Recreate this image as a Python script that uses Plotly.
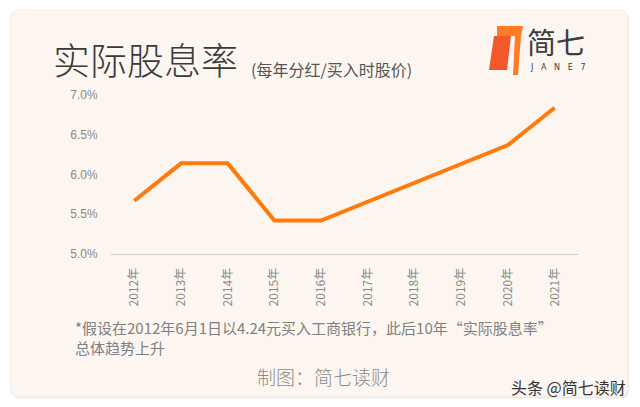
import plotly.graph_objects as go

years = ["2012年", "2013年", "2014年", "2015年", "2016年", "2017年", "2018年", "2019年", "2020年", "2021年"]
yield_pct = [5.67, 6.14, 6.14, 5.42, 5.42, 5.66, 5.90, 6.13, 6.37, 6.84]
y_ticks = [5.0, 5.5, 6.0, 6.5, 7.0]
y_tick_text = ["5.0%", "5.5%", "6.0%", "6.5%", "7.0%"]

W, H = 640, 407
L, R, T, B = 111, 62, 95, 153
PW, PH = W - L - R, H - T - B

def X(px):
    return (px - L) / PW

def Y(py):
    return (H - B - py) / PH

CJK = "Noto Sans CJK SC"

fig = go.Figure()
fig.add_trace(go.Scatter(
    x=years, y=yield_pct, mode="lines",
    line=dict(color="#ff7a0c", width=4),
    hoverinfo="skip",
))

x0, y0, x1, y1, r = 10.5, 10, 628, 397, 9
def card_path(x0, y0, x1, y1, r):
    pts = [
        f"M {X(x0 + r)},{Y(y0)}",
        f"L {X(x1 - r)},{Y(y0)}",
        f"Q {X(x1)},{Y(y0)} {X(x1)},{Y(y0 + r)}",
        f"L {X(x1)},{Y(y1 - r)}",
        f"Q {X(x1)},{Y(y1)} {X(x1 - r)},{Y(y1)}",
        f"L {X(x0 + r)},{Y(y1)}",
        f"Q {X(x0)},{Y(y1)} {X(x0)},{Y(y1 - r)}",
        f"L {X(x0)},{Y(y0 + r)}",
        f"Q {X(x0)},{Y(y0)} {X(x0 + r)},{Y(y0)}",
        "Z",
    ]
    return " ".join(pts)

shapes = [
    dict(type="path", xref="paper", yref="paper", layer="below",
         path=card_path(x0 + 1, y0 + 1.5, x1 + 1, y1 + 1.5, r),
         fillcolor="#e9e9e9", line=dict(width=0)),
    dict(type="path", xref="paper", yref="paper", layer="below",
         path=card_path(x0, y0, x1, y1, r),
         fillcolor="#fdf6f0", line=dict(color="#f0ebe6", width=1)),
]

def poly(pts, color):
    d = "M " + " L ".join(f"{X(px)},{Y(py)}" for px, py in pts) + " Z"
    return dict(type="path", xref="paper", yref="paper", path=d,
                fillcolor=color, line=dict(width=0))

shapes.append(poly([(489, 70), (494, 36), (511, 36), (507, 70)], "#f4582a"))
shapes.append(poly([(497, 26), (523, 26), (521, 36), (518, 75), (513, 75), (515, 36), (497, 36)], "#ff7b24"))

def note(text, px, py, size, color, xanchor="left", family=CJK, align="left", weight=400):
    return dict(text=text, x=X(px), y=Y(py), xref="paper", yref="paper",
                xanchor=xanchor, yanchor="middle", align=align,
                font=dict(family=family, size=size, color=color, weight=weight), showarrow=False)

annotations = [
    note("实际股息率", 51, 59, 37, "#3a3a3a", weight=300),
    note("(每年分红/买入时股价)", 249, 69, 16, "#555555"),
    note("简七", 525, 41, 29, "#3d3d3d"),
    note("J   A   N   E   7", 557, 67.5, 8, "#3d3d3d", xanchor="center", family="DejaVu Sans"),
    note("*假设在2012年6月1日以4.24元买入工商银行，此后10年“实际股息率”<br>总体趋势上升",
         73, 337, 15, "#808080"),
    note("制图：简七读财", 323, 376, 19, "#8a8a8a", xanchor="center", weight=300),
    note("头条 @简七读财", 628, 387, 16, "#333333", xanchor="right"),
]

fig.update_layout(
    width=W, height=H,
    margin=dict(l=L, r=R, t=T, b=B, pad=0),
    paper_bgcolor="#ffffff", plot_bgcolor="rgba(0,0,0,0)",
    showlegend=False,
    shapes=shapes, annotations=annotations,
    xaxis=dict(type="category", range=[-0.5, 9.5], showline=True, linecolor="#cccccc",
               linewidth=1, showgrid=False, zeroline=False, tickangle=-90,
               ticks="outside", ticklen=8, tickcolor="rgba(0,0,0,0)",
               tickfont=dict(family=CJK, size=12, color="#888888"), fixedrange=True),
    yaxis=dict(range=[5.0, 7.0], tickvals=y_ticks, ticktext=y_tick_text,
               showgrid=False, zeroline=False, showline=False,
               ticks="outside", ticklen=10, tickcolor="rgba(0,0,0,0)",
               tickfont=dict(family="Liberation Sans", size=12, color="#888888"),
               fixedrange=True),
)

fig.write_html("out.html")
